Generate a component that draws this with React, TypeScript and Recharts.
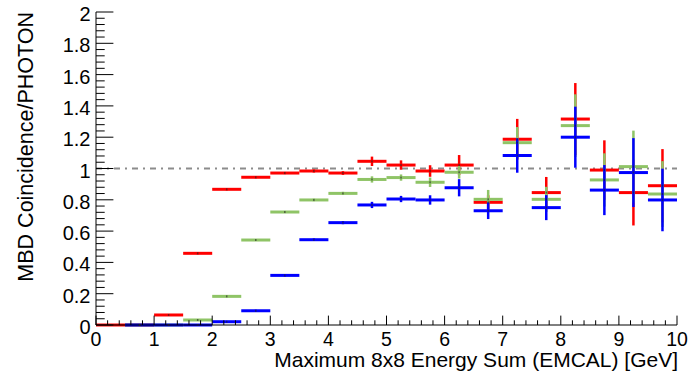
import React from "react"
import { ScatterChart, Scatter, XAxis, YAxis, ErrorBar, ReferenceLine, Label } from "recharts"

// 0.5 GeV bins from 0 to 10
const binCenters = [
  0.25, 0.75, 1.25, 1.75, 2.25, 2.75, 3.25, 3.75, 4.25, 4.75,
  5.25, 5.75, 6.25, 6.75, 7.25, 7.75, 8.25, 8.75, 9.25, 9.75,
]
const binHalfWidth = 0.25

const redRatio = [
  0, 0, 0.064, 0.458, 0.867, 0.944, 0.971, 0.984, 0.971, 1.046,
  1.022, 0.984, 1.022, 0.784, 1.187, 0.846, 1.316, 0.99, 0.846, 0.89,
]
const redError = [
  0, 0, 0.005, 0.006, 0.006, 0.006, 0.007, 0.01, 0.012, 0.03,
  0.03, 0.037, 0.064, 0.045, 0.13, 0.1, 0.23, 0.19, 0.21, 0.234,
]

const greenRatio = [
  null, 0, 0, 0.032, 0.183, 0.543, 0.722, 0.799, 0.841, 0.93,
  0.942, 0.912, 0.976, 0.803, 1.165, 0.803, 1.274, 0.927, 1.012, 0.837,
]
const greenError = [
  null, 0, 0, 0.004, 0.005, 0.006, 0.007, 0.008, 0.01, 0.02,
  0.02, 0.03, 0.04, 0.06, 0.1, 0.08, 0.2, 0.17, 0.23, 0.21,
]

const blueRatio = [
  null, 0, 0, 0, 0.021, 0.091, 0.317, 0.545, 0.654, 0.767,
  0.805, 0.799, 0.877, 0.73, 1.083, 0.75, 1.2, 0.862, 0.974, 0.799,
]
const blueError = [
  null, 0, 0, 0, 0.004, 0.006, 0.007, 0.008, 0.01, 0.02,
  0.02, 0.03, 0.055, 0.053, 0.11, 0.08, 0.195, 0.16, 0.22, 0.2,
]

const xMajorTicks = [0, 1, 2, 3, 4, 5, 6, 7, 8, 9, 10]
const xTickLabels = ["0", "1", "2", "3", "4", "5", "6", "7", "8", "9", "10"]
const yMajorTicks = [0, 0.2, 0.4, 0.6, 0.8, 1, 1.2, 1.4, 1.6, 1.8, 2]
const yTickLabels = ["0", "0.2", "0.4", "0.6", "0.8", "1", "1.2", "1.4", "1.6", "1.8", "2"]

const FONT = "'Liberation Sans', Arial, Helvetica, sans-serif"
const RED = "#ff0000"
const GREEN = "#8fc466"
const BLUE = "#0000ff"

// ROOT-style axis: 5 subdivisions between labelled ticks
function subdivide(majors: number[], n: number) {
  const out: number[] = []
  for (let i = 0; i < majors.length - 1; i++) {
    for (let k = 0; k < n; k++) {
      out.push(Math.round((majors[i] + ((majors[i + 1] - majors[i]) * k) / n) * 1e6) / 1e6)
    }
  }
  out.push(majors[majors.length - 1])
  return out
}

const xTicks = subdivide(xMajorTicks, 5)
const yTicks = subdivide(yMajorTicks, 5)

const majorIndex = (majors: number[], v: number) =>
  majors.findIndex((t) => Math.abs(t - v) < 1e-6)

function toPoints(values: (number | null)[], errors: (number | null)[]) {
  return binCenters
    .map((x, i) => ({ x, y: values[i], xErr: binHalfWidth, yErr: errors[i] }))
    .filter((p) => p.y !== null)
}

const redPoints = toPoints(redRatio, redError)
const greenPoints = toPoints(greenRatio, greenError)
const bluePoints = toPoints(blueRatio, blueError)

function BottomTick({ x, y, payload }: any) {
  const i = majorIndex(xMajorTicks, payload.value)
  return (
    <g>
      <line x1={x} x2={x} y1={y} y2={y - (i >= 0 ? 9.4 : 4.7)} stroke="#000" />
      {i >= 0 && (
        <text x={x} y={y + 20.5} textAnchor="middle" fontSize={19.5} fontFamily={FONT} fill="#000">
          {xTickLabels[i]}
        </text>
      )}
    </g>
  )
}

function TopTick({ x, y, payload }: any) {
  const major = majorIndex(xMajorTicks, payload.value) >= 0
  return <line x1={x} x2={x} y1={y} y2={y + (major ? 9.4 : 4.7)} stroke="#000" />
}

function LeftTick({ x, y, payload }: any) {
  const i = majorIndex(yMajorTicks, payload.value)
  return (
    <g>
      <line x1={x} x2={x + (i >= 0 ? 17.4 : 8.7)} y1={y} y2={y} stroke="#000" />
      {i >= 0 && (
        <text x={x - 5.5} y={y + 9} textAnchor="end" fontSize={20} fontFamily={FONT} fill="#000">
          {yTickLabels[i]}
        </text>
      )}
    </g>
  )
}

function RightTick({ x, y, payload }: any) {
  const major = majorIndex(yMajorTicks, payload.value) >= 0
  return <line x1={x} x2={x - (major ? 17.4 : 8.7)} y1={y} y2={y} stroke="#000" />
}

function CenterDot({ cx, cy }: any) {
  return <rect x={cx - 0.75} y={cy - 1} width={1.5} height={2} fill="#222" opacity={0.6} />
}

function XTitle({ viewBox }: any) {
  return (
    <text
      x={viewBox.x + viewBox.width + 1}
      y={viewBox.y + 42}
      textAnchor="end"
      fontSize={21}
      fontFamily={FONT}
      fill="#000"
    >
      Maximum 8x8 Energy Sum (EMCAL) [GeV]
    </text>
  )
}

function YTitle({ viewBox }: any) {
  const tx = 33
  const ty = viewBox.y
  return (
    <text
      x={tx}
      y={ty}
      transform={`rotate(-90 ${tx} ${ty})`}
      textAnchor="end"
      fontSize={21.5}
      fontFamily={FONT}
      fill="#000"
    >
      MBD Coincidence/PHOTON
    </text>
  )
}

function Series({ data, color, name }: { data: any[]; color: string; name: string }) {
  return (
    <Scatter name={name} data={data} dataKey="y" fill={color} shape={<CenterDot />} isAnimationActive={false}>
      <ErrorBar dataKey="xErr" direction="x" width={0} stroke={color} strokeWidth={3} isAnimationActive={false} />
      <ErrorBar dataKey="yErr" direction="y" width={0} stroke={color} strokeWidth={2.5} isAnimationActive={false} />
    </Scatter>
  )
}

export default function App() {
  return (
    <div style={{ position: "absolute", left: 0, top: 0, width: 690, height: 371, background: "#fff" }}>
      <ScatterChart width={690} height={371} margin={{ top: 12, right: 13, bottom: 0, left: 0 }}>
        <XAxis
          xAxisId={0}
          dataKey="x"
          type="number"
          domain={[0, 10]}
          ticks={xTicks}
          interval={0}
          height={46}
          tickSize={0}
          tickMargin={0}
          tickLine={false}
          tick={<BottomTick />}
          axisLine={{ stroke: "#000", strokeWidth: 1 }}
        >
          <Label content={<XTitle />} />
        </XAxis>
        <XAxis
          xAxisId="top"
          orientation="top"
          type="number"
          domain={[0, 10]}
          ticks={xTicks}
          interval={0}
          height={0}
          tickSize={0}
          tickMargin={0}
          tickLine={false}
          tick={<TopTick />}
          axisLine={{ stroke: "#000", strokeWidth: 1 }}
        />
        <YAxis
          yAxisId={0}
          dataKey="y"
          type="number"
          domain={[0, 2]}
          ticks={yTicks}
          interval={0}
          width={96}
          tickSize={0}
          tickMargin={0}
          tickLine={false}
          tick={<LeftTick />}
          axisLine={{ stroke: "#000", strokeWidth: 1 }}
        >
          <Label content={<YTitle />} />
        </YAxis>
        <YAxis
          yAxisId="right"
          orientation="right"
          type="number"
          domain={[0, 2]}
          ticks={yTicks}
          interval={0}
          width={0}
          tickSize={0}
          tickMargin={0}
          tickLine={false}
          tick={<RightTick />}
          axisLine={{ stroke: "#000", strokeWidth: 1 }}
        />
        <ReferenceLine y={1} stroke="#8c8c8c" strokeWidth={2} strokeDasharray="6 5 2 5" />
        <Series data={redPoints} color={RED} name="red" />
        <Series data={greenPoints} color={GREEN} name="green" />
        <Series data={bluePoints} color={BLUE} name="blue" />
      </ScatterChart>
    </div>
  )
}
